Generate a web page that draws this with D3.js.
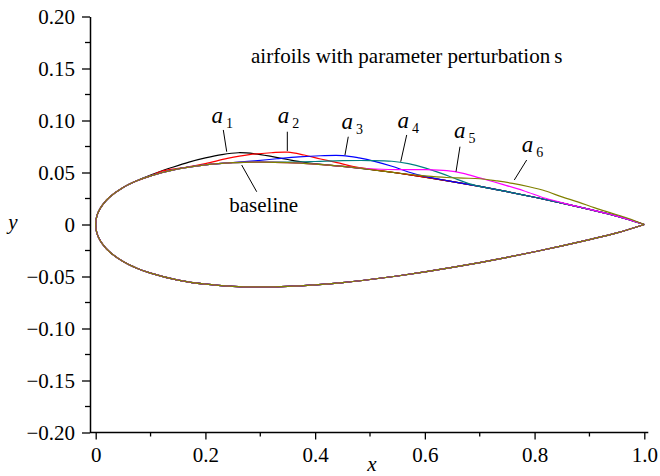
<!DOCTYPE html>
<html>
<head>
<meta charset="utf-8">
<script src="https://cdn.jsdelivr.net/npm/d3@7"></script>
<style>
  body { margin: 0; background: #fff; }
</style>
</head>
<body>
<svg id="chart"></svg>
<script>
// baseline airfoil (upper and lower surface)
const baseX     = [0, 0.0005, 0.002, 0.005, 0.0125, 0.025, 0.05, 0.075, 0.1, 0.15, 0.2, 0.25, 0.3, 0.35, 0.4, 0.45, 0.5, 0.55, 0.6, 0.65, 0.7, 0.75, 0.8, 0.85, 0.9, 0.95, 1.0];
const baseUpper = [0, 0.0040, 0.0078, 0.0122, 0.0189, 0.0262, 0.0356, 0.0420, 0.0468, 0.0535, 0.0574, 0.0594, 0.0600, 0.0595, 0.0580, 0.0558, 0.0529, 0.0495, 0.0456, 0.0413, 0.0366, 0.0316, 0.0262, 0.0206, 0.0145, 0.0081, 0];
const baseLower = [0, -0.0040, -0.0078, -0.0122, -0.0189, -0.0262, -0.0356, -0.0420, -0.0468, -0.0535, -0.0574, -0.0594, -0.0600, -0.0595, -0.0580, -0.0558, -0.0529, -0.0495, -0.0456, -0.0413, -0.0366, -0.0316, -0.0262, -0.0206, -0.0145, -0.0081, 0];

// perturbed parts of the upper surface, [x, y]
const a1 = [[0.05,0.0356],[0.08,0.0432],[0.11,0.0495],[0.14,0.0550],[0.17,0.0600],[0.20,0.0640],[0.23,0.0672],[0.26,0.0690],[0.29,0.0680],[0.32,0.0655],[0.35,0.0625],[0.38,0.0598],[0.42,0.0574],[0.45,0.0558]];
const a2 = [[0.12,0.0512],[0.16,0.0546],[0.20,0.0585],[0.24,0.0635],[0.28,0.0672],[0.32,0.0690],[0.35,0.0696],[0.38,0.0668],[0.41,0.0630],[0.44,0.0595],[0.47,0.0558],[0.51,0.0525],[0.55,0.0495]];
const a3 = [[0.20,0.0574],[0.25,0.0596],[0.29,0.0612],[0.33,0.0632],[0.37,0.0650],[0.41,0.0661],[0.45,0.0663],[0.48,0.0640],[0.51,0.0605],[0.54,0.0560],[0.57,0.0505],[0.60,0.0462],[0.64,0.0422]];
const a4 = [[0.30,0.0600],[0.35,0.0600],[0.40,0.0606],[0.45,0.0614],[0.50,0.0615],[0.54,0.0608],[0.57,0.0585],[0.60,0.0545],[0.63,0.0492],[0.66,0.0432],[0.69,0.0378],[0.72,0.0346]];
const a5 = [[0.45,0.0558],[0.50,0.0536],[0.55,0.0528],[0.60,0.0528],[0.64,0.0518],[0.67,0.0492],[0.70,0.0448],[0.74,0.0388],[0.78,0.0325],[0.82,0.0252],[0.86,0.0196]];
const a6 = [[0.55,0.0495],[0.60,0.0468],[0.64,0.0452],[0.67,0.0446],[0.70,0.0440],[0.73,0.0420],[0.76,0.0396],[0.79,0.0363],[0.82,0.0322],[0.85,0.0265],[0.88,0.0215],[0.91,0.0160],[0.94,0.0110],[0.97,0.0060],[1.0,0]];

const seriesNames  = ["a1", "a2", "a3", "a4", "a5", "a6"];
const seriesColors = ["#000000", "#ff0000", "#0000ff", "#008080", "#ff00ff", "#808000"];
const baseColor = "#808000";

const xMajor = [0, 0.2, 0.4, 0.6, 0.8, 1.0];
const xMinor = [0.1, 0.3, 0.5, 0.7, 0.9];
const yMajor = [-0.20, -0.15, -0.10, -0.05, 0, 0.05, 0.10, 0.15, 0.20];
const yMinor = [-0.175, -0.125, -0.075, -0.025, 0.025, 0.075, 0.125, 0.175];

// label annotations in data units: text anchor, leader start, leader end
const labels = [
  {name: "a", sub: "1", at: [0.211, 0.0976], from: [0.2326, 0.0909], to: [0.2388, 0.0700]},
  {name: "a", sub: "2", at: [0.332, 0.0976], from: [0.3493, 0.0892], to: [0.3493, 0.0707]},
  {name: "a", sub: "3", at: [0.448, 0.0918], from: [0.4604, 0.0844], to: [0.4544, 0.0668]},
  {name: "a", sub: "4", at: [0.550, 0.0928], from: [0.5669, 0.0861], to: [0.5560, 0.0604]},
  {name: "a", sub: "5", at: [0.653, 0.0832], from: [0.6640, 0.0748], to: [0.6568, 0.0508]},
  {name: "a", sub: "6", at: [0.7765, 0.0700], from: [0.7856, 0.0620], to: [0.7630, 0.0428]}
];
const baselineLabel = {text: "baseline", at: [0.2435, 0.0125], from: [0.2661, 0.0572], to: [0.2935, 0.0315]};

const width = 660, height = 476;
const axisX = 90;
const FONT = "'Liberation Serif', 'Times New Roman', Times, 'DejaVu Serif', serif";

const svg = d3.select("#chart").attr("width", width).attr("height", height)
    .attr("font-family", FONT);

const x = d3.scaleLinear().domain([0, 1]).range([95.7, 644.3]);
const y = d3.scaleLinear().domain([-0.2, 0.2]).range([432.5, 16.5]);

// y axis
const yAxisG = svg.append("g").attr("transform", `translate(${axisX},0)`);
yAxisG.call(d3.axisLeft(y).tickValues(yMajor).tickSize(8).tickSizeOuter(0).tickPadding(7)
    .tickFormat(d => d === 0 ? "0" : d3.format(".2f")(d)));
yAxisG.attr("font-family", FONT).attr("font-size", 21);
yAxisG.selectAll(".tick line").attr("stroke-width", 1.3);
yAxisG.select(".domain").attr("stroke-width", 1.5);
yAxisG.append("g").selectAll("line").data(yMinor).join("line")
    .attr("x1", -5).attr("x2", 0)
    .attr("y1", d => y(d)).attr("y2", d => y(d))
    .attr("stroke", "#000").attr("stroke-width", 1.3);

// x axis
const xAxisG = svg.append("g").attr("transform", `translate(0,${y(-0.2)})`);
xAxisG.call(d3.axisBottom(x).tickValues(xMajor).tickSize(7).tickSizeOuter(0).tickPadding(8)
    .tickFormat(d => d === 0 ? "0" : d3.format(".1f")(d)));
xAxisG.attr("font-family", FONT).attr("font-size", 21);
xAxisG.select(".domain").remove();
xAxisG.append("line")
    .attr("x1", axisX).attr("x2", x(1) + 4)
    .attr("stroke", "#000").attr("stroke-width", 1.5);
xAxisG.selectAll(".tick line").attr("stroke-width", 1.3);
xAxisG.append("g").selectAll("line").data(xMinor).join("line")
    .attr("x1", d => x(d)).attr("x2", d => x(d))
    .attr("y1", 0).attr("y2", 4)
    .attr("stroke", "#000").attr("stroke-width", 1.3);

// axis titles
svg.append("text").attr("x", 13).attr("y", 229).attr("text-anchor", "middle")
    .attr("font-size", 21).attr("font-style", "italic").text("y");
svg.append("text").attr("x", 372).attr("y", 471).attr("text-anchor", "middle")
    .attr("font-size", 21).attr("font-style", "italic").text("x");

// title
const title = svg.append("text").attr("x", 251).attr("y", 63).attr("font-size", 21);
title.append("tspan").text("airfoils with parameter perturbation");
title.append("tspan").attr("dx", 4).text("s");

// build full airfoil outlines
const baseUpperPts = baseX.map((d, i) => [d, baseUpper[i]]);
const baseLowerPts = baseX.map((d, i) => [d, baseLower[i]]);

function fullOutline(bump) {
  let upper = baseUpperPts;
  if (bump) {
    const x0 = bump[0][0], x1 = bump[bump.length - 1][0];
    upper = baseUpperPts.filter(p => p[0] < x0).concat(bump, baseUpperPts.filter(p => p[0] > x1));
  }
  // trailing edge -> leading edge -> trailing edge
  return upper.slice().reverse().concat(baseLowerPts.slice(1));
}

const line = d3.line()
    .x(d => x(d[0]))
    .y(d => y(d[1]))
    .curve(d3.curveCatmullRom.alpha(0.5));

const curves = svg.append("g").attr("fill", "none").attr("stroke-width", 1.2);

curves.append("path")
    .attr("d", line(fullOutline(null)))
    .attr("stroke", baseColor);

const bumps = [a1, a2, a3, a4, a5, a6];
curves.selectAll(".pert").data(bumps).join("path")
    .attr("class", "pert")
    .attr("d", d => line(fullOutline(d)))
    .attr("stroke", (d, i) => seriesColors[i]);

// leaders and labels
const ann = svg.append("g");
ann.selectAll("line").data(labels.concat([baselineLabel])).join("line")
    .attr("x1", d => x(d.from[0])).attr("y1", d => y(d.from[1]))
    .attr("x2", d => x(d.to[0])).attr("y2", d => y(d.to[1]))
    .attr("stroke", "#000").attr("stroke-width", 1);

const lab = ann.selectAll(".lab").data(labels).join("text")
    .attr("class", "lab")
    .attr("x", d => x(d.at[0])).attr("y", d => y(d.at[1]));
lab.append("tspan").attr("font-size", 23).attr("font-style", "italic").text(d => d.name);
lab.append("tspan").attr("dx", 3).attr("dy", 5).attr("font-size", 14).text(d => d.sub);

ann.append("text")
    .attr("x", x(baselineLabel.at[0])).attr("y", y(baselineLabel.at[1]))
    .attr("font-size", 21)
    .text(baselineLabel.text);
</script>
</body>
</html>
